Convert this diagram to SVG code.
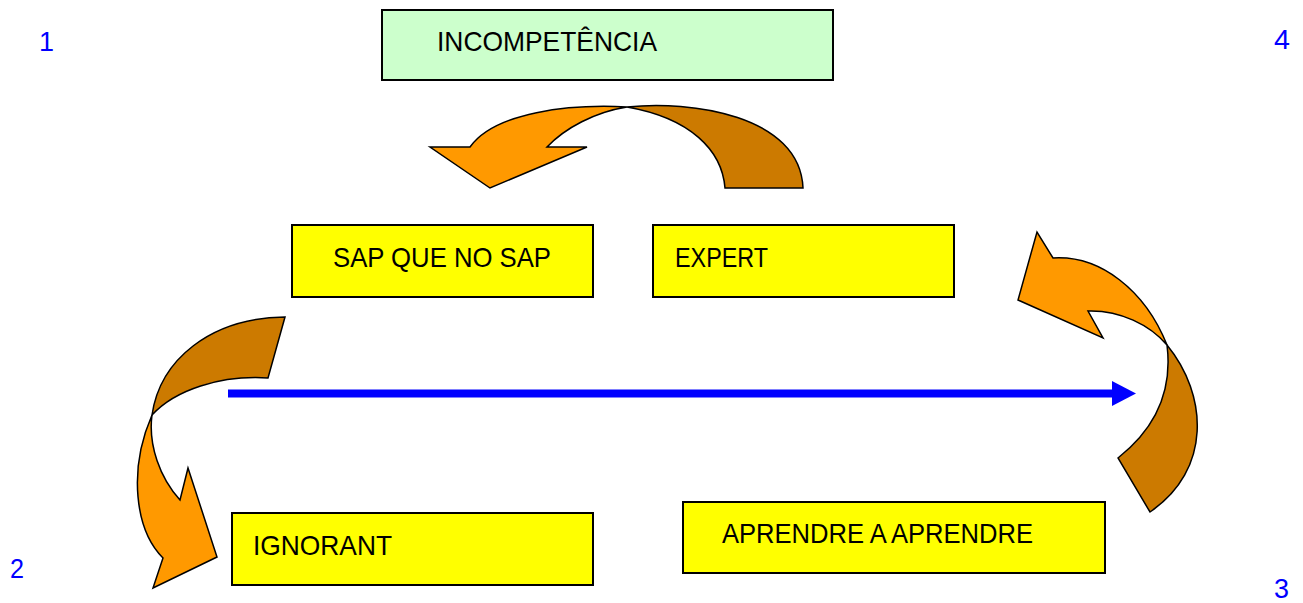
<svg xmlns="http://www.w3.org/2000/svg" width="1303" height="603" viewBox="0 0 1303 603">
<style>
  .box { stroke: #000; stroke-width: 2; }
  .green { fill: #CCFFCC; }
  .yellow { fill: #FFFF00; }
  .lbl { font-family: "Liberation Sans", Arial, sans-serif; font-size: 27.5px; fill: #000; }
  .num { font-family: "Liberation Sans", Arial, sans-serif; font-size: 27px; fill: #0000FF; }
  .or { fill: #FF9900; stroke: #000; stroke-width: 1.5; stroke-linejoin: miter; }
  .br { fill: #CC7A00; stroke: #000; stroke-width: 1.5; stroke-linejoin: miter; }
</style>
<rect width="1303" height="603" fill="#FFFFFF"/>

<g id="corner-numbers">
  <text class="num" x="39" y="51" textLength="15" lengthAdjust="spacingAndGlyphs">1</text>
  <text class="num" x="1274" y="49" textLength="16" lengthAdjust="spacingAndGlyphs">4</text>
  <text class="num" x="10" y="578" textLength="14" lengthAdjust="spacingAndGlyphs">2</text>
  <text class="num" x="1274" y="598" textLength="15" lengthAdjust="spacingAndGlyphs">3</text>
</g>

<g id="node-incompetencia">
  <rect class="box green" x="382" y="10" width="451" height="70"/>
  <text class="lbl" x="437" y="51" textLength="220" lengthAdjust="spacingAndGlyphs">INCOMPETÊNCIA</text>
</g>
<g id="node-sap">
  <rect class="box yellow" x="292" y="225" width="301" height="72"/>
  <text class="lbl" x="333" y="267" textLength="218" lengthAdjust="spacingAndGlyphs">SAP QUE NO SAP</text>
</g>
<g id="node-expert">
  <rect class="box yellow" x="653" y="225" width="301" height="72"/>
  <text class="lbl" x="675" y="267" textLength="93" lengthAdjust="spacingAndGlyphs">EXPERT</text>
</g>
<g id="node-ignorant">
  <rect class="box yellow" x="232" y="513" width="361" height="72"/>
  <text class="lbl" x="253" y="555" textLength="139" lengthAdjust="spacingAndGlyphs">IGNORANT</text>
</g>
<g id="node-aprendre">
  <rect class="box yellow" x="683" y="502" width="422" height="71"/>
  <text class="lbl" x="722" y="543" textLength="311" lengthAdjust="spacingAndGlyphs">APRENDRE A APRENDRE</text>
</g>

<g id="connectors">
  <g id="arrow-top">
    <path class="br" d="M627,107 C690,100 800,115 803,188 L725,188 C722,150 690,118 627,107 Z"/>
    <path class="or" d="M627,107 C570,104 495,112 470,147 L430,147 L490,188 L587,147 L547,147 C565,128 595,112 627,107 Z"/>
  </g>
  <g id="arrow-left">
    <path class="br" d="M285,317 L268,378 C220,375 175,390 152,415 C160,360 210,318 285,317 Z"/>
    <path class="or" d="M152,415 C128,470 135,530 163,558 L153,588 L217,557 L188,468 L180,500 C160,478 148,445 152,415 Z"/>
  </g>
  <g id="arrow-right">
    <path class="br" d="M1167,345 C1208,395 1212,470 1150,512 L1118,458 C1160,425 1172,385 1167,345 Z"/>
    <path class="or" d="M1053,258 C1100,255 1145,290 1167,345 C1150,325 1120,310 1088,311 L1103,338 L1018,300 L1037,232 Z"/>
  </g>
  <g id="arrow-blue">
    <line x1="228" y1="393.5" x2="1114" y2="393.5" stroke="#0000FF" stroke-width="8"/>
    <polygon points="1112,381 1136,393.5 1112,406" fill="#0000FF"/>
  </g>
</g>
</svg>
